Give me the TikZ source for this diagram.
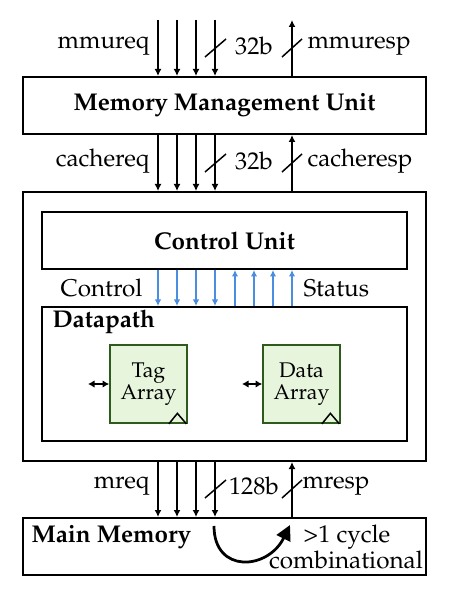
\documentclass[tikz,border=0pt]{standalone}
\usepackage[T1]{fontenc}
\usepackage{mathpazo}
\usetikzlibrary{arrows.meta}
\definecolor{arrblue}{HTML}{4A8FDF}
\definecolor{grnfill}{HTML}{E8F5DD}
\definecolor{grnline}{HTML}{2E5A1C}
\begin{document}
\begin{tikzpicture}[x=0.4pt,y=-0.4pt,
  box/.style={draw, line width=0.8pt, inner sep=0pt, font=\bfseries},
  arr/.style={line width=0.6pt, -{Latex[length=2.8pt,width=2.8pt]}},
  barr/.style={line width=0.5pt, arrblue, -{Latex[length=2.6pt,width=2.6pt]}},
  slash/.style={line width=0.6pt},
  lbl/.style={inner sep=0pt},
  arraybox/.style={draw=grnline, fill=grnfill, line width=0.7pt, minimum width=30.8pt, minimum height=31.2pt, inner sep=0pt, align=center, font=\fontsize{8.5}{8.6}\selectfont},
  every node/.append style={font=\fontsize{9.7}{11}\selectfont}]
\useasboundingbox (0,0) rectangle (458,598);
% boxes
\node[box, minimum width=161.2pt, minimum height=22.8pt] (mmu) at (224.5,105.5) {\fontsize{9.7}{11}\selectfont\bfseries Memory Management Unit};
\node[box, minimum width=161.2pt, minimum height=107.6pt] (cache) at (224.5,326.5) {};
\node[box, minimum width=146pt, minimum height=22.8pt] (cu) at (224.5,240.5) {\fontsize{9.7}{11}\selectfont\bfseries Control Unit};
\node[box, minimum width=146pt, minimum height=53.6pt] (dp) at (224.5,374) {};
\node[box, minimum width=161.2pt, minimum height=22.8pt] (mm) at (224.5,546.5) {};
\node[arraybox] (tag) at (148.5,384) {Tag\\Array};
\node[arraybox] (data) at (301.5,384) {Data\\Array};
% clock triangles
\draw[line width=0.6pt] ([xshift=-7.6pt]tag.south east) -- ([xshift=-4.2pt,yshift=4.2pt]tag.south east) -- ([xshift=-0.6pt]tag.south east);
\draw[line width=0.6pt] ([xshift=-7.6pt]data.south east) -- ([xshift=-4.2pt,yshift=4.2pt]data.south east) -- ([xshift=-0.6pt]data.south east);
% double arrows
\coordinate (tl) at (88,384);
\coordinate (dl) at (242,384);
\draw[line width=0.8pt, {Latex[length=2.6pt,width=3pt]}-{Latex[length=2.6pt,width=3pt]}] (tl) -- (tl -| tag.west);
\draw[line width=0.8pt, {Latex[length=2.6pt,width=3pt]}-{Latex[length=2.6pt,width=3pt]}] (dl) -- (dl -| data.west);
% black arrows
\foreach \i/\x in {1/158,2/177,3/196,4/215} {
  \coordinate (t\i) at (\x,20);
  \draw[arr] (t\i) -- (t\i |- mmu.north);
  \coordinate (c\i) at (\x,0);
  \draw[arr] (c\i |- mmu.south) -- (c\i |- cache.north);
  \draw[arr] (c\i |- cache.south) -- (c\i |- mm.north);
}
\coordinate (tr) at (292,20);
\draw[arr] (tr |- mmu.north) -- (tr);
\draw[arr] (tr |- cache.north) -- (tr |- mmu.south);
\draw[arr] (tr |- mm.north) -- (tr |- cache.south);
% blue arrows
\foreach \i/\x in {1/158,2/177,3/196,4/215} {
  \coordinate (b\i) at (\x,0);
  \draw[barr] (b\i |- cu.south) -- (b\i |- dp.north);
}
\foreach \i/\x in {5/235,6/254,7/273,8/292} {
  \coordinate (b\i) at (\x,0);
  \draw[barr] (b\i |- dp.north) -- (b\i |- cu.south);
}
% slashes
\foreach \y in {48,163,489} {
  \draw[slash] (205,\y+9) -- (226,\y-9);
  \draw[slash] (282,\y+9) -- (302,\y-9);
}
% labels
\node[lbl, anchor=east] (l1) at (150,46) {mmureq};
\node[lbl] (l2) at (254,46) {32b};
\node[lbl, anchor=west] (l3) at (307,46) {mmuresp};
\node[lbl, anchor=east] (l4) at (150,161) {cachereq};
\node[lbl] (l5) at (254,161) {32b};
\node[lbl, anchor=west] (l6) at (307,161) {cacheresp};
\node[lbl, anchor=east] (l7) at (150,486) {mreq};
\node[lbl] (l8) at (254,486) {128b};
\node[lbl, anchor=west] (l9) at (302,486) {mresp};
\node[lbl, anchor=east] (ctl) at (143,288) {Control};
\node[lbl, anchor=west] (sts) at (303,288) {Status};
\node[lbl, anchor=west, font=\fontsize{9.7}{11}\selectfont\bfseries] (dpl) at (52,322) {Datapath};
\node[lbl, anchor=west, font=\fontsize{9.7}{11}\selectfont\bfseries] (mml) at (31,537) {Main Memory};
\node[lbl] (cyc) at (347,537) {>1 cycle};
\node[lbl] (comb) at (346,560) {combinational};
% curved arrow
\coordinate (ca) at (214,526);
\coordinate (cb) at (290,525);
\draw[line width=1.1pt, -{Triangle[length=6pt,width=6pt]}] (ca) .. controls (214,574) and (268,570) .. (cb);
\end{tikzpicture}
\end{document}
